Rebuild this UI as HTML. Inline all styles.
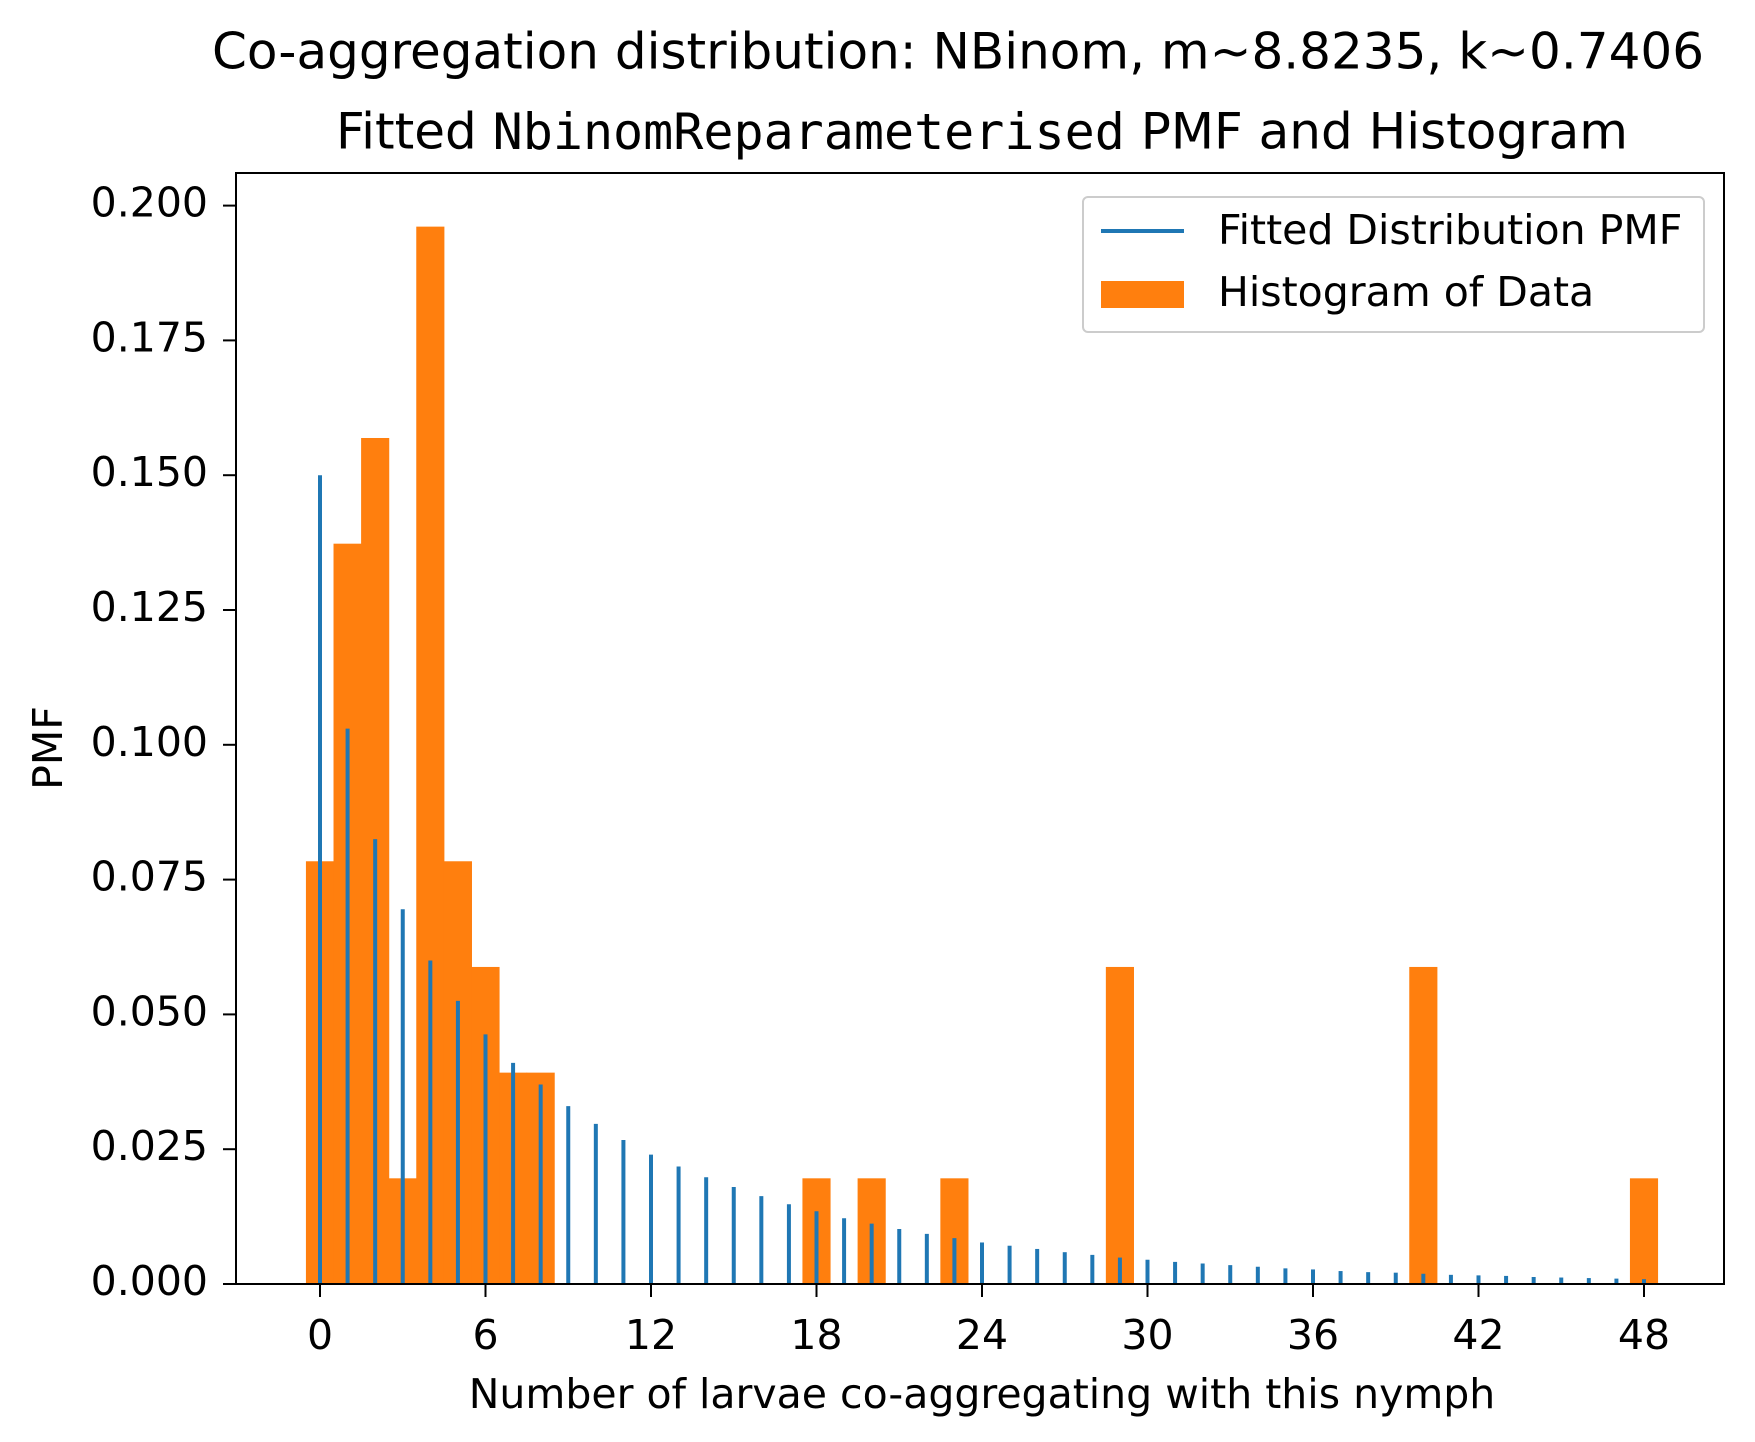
<!DOCTYPE html>
<html><head><meta charset="utf-8"><style>html,body{margin:0;padding:0;background:#fff}svg{display:block}text{font-family:"DejaVu Sans","Liberation Sans",sans-serif;fill:#000}</style></head>
<body>
<svg id="chart" width="1755" height="1442" viewBox="0 0 1755 1442" xmlns="http://www.w3.org/2000/svg">
<rect width="1755" height="1442" fill="#fff"/>
<text x="958" y="55" font-size="50" text-anchor="middle" dominant-baseline="middle">Co-aggregation distribution: NBinom, m~8.8235, k~0.7406</text>
<text x="982" y="135" font-size="50" text-anchor="middle" dominant-baseline="middle">Fitted <tspan font-family="DejaVu Sans Mono,Liberation Mono,monospace">NbinomReparameterised</tspan> PMF and Histogram</text>
<g id="marks"></g>
<rect x="236" y="173" width="1488" height="1111" fill="none" stroke="#000" stroke-width="2"/>
<g id="axes"></g>
<text x="982" y="1397" font-size="41" text-anchor="middle" dominant-baseline="middle">Number of larvae co-aggregating with this nymph</text>
<text transform="translate(51,748) rotate(-90)" font-size="41" text-anchor="middle" dominant-baseline="middle">PMF</text>
<g>
<rect x="1083" y="197" width="621" height="135" rx="5" fill="#fff" fill-opacity="0.8" stroke="#ccc" stroke-width="2"/>
<line x1="1101" y1="231" x2="1184" y2="231" stroke="#1f77b4" stroke-width="4"/>
<text x="1218" y="233" font-size="41" dominant-baseline="middle">Fitted Distribution PMF</text>
<rect x="1101" y="281" width="83" height="27" fill="#ff7f0e"/>
<text x="1218" y="295" font-size="41" dominant-baseline="middle">Histogram of Data</text>
</g>
</svg>
<script>
const histBins=[0,1,2,3,4,5,6,7,8,18,20,23,29,40,48];
const histValues=[0.0784,0.1373,0.1569,0.0196,0.1961,0.0784,0.0588,0.0392,0.0392,0.0196,0.0196,0.0196,0.0588,0.0588,0.0196];
const pmfValues=[0.150,0.103,0.0825,0.0695,0.060,0.0525,0.0463,0.041,0.037,0.033,0.0297,0.0267,0.024,0.0218,0.0198,0.018,0.0163,0.0148,0.0135,0.0122,0.0112,0.0102,0.0093,0.0085,0.0077,0.0071,0.0065,0.0059,0.0054,0.0049,0.0045,0.0041,0.0038,0.0035,0.0032,0.0029,0.0027,0.0024,0.0022,0.0021,0.0019,0.0017,0.0016,0.0015,0.0013,0.0012,0.0011,0.0010,0.0009];
const xTicks=[0,6,12,18,24,30,36,42,48];
const yTicks=[0,0.025,0.05,0.075,0.1,0.125,0.15,0.175,0.2];
const yTickLabels=["0.000","0.025","0.050","0.075","0.100","0.125","0.150","0.175","0.200"];
const NS="http://www.w3.org/2000/svg";
const X=v=>320+(v)*(1644-320)/48;
const Y=v=>1284-v*5392;
const marks=document.getElementById('marks'),axes=document.getElementById('axes');
function mk(t,a,p){const e=document.createElementNS(NS,t);for(const k in a)e.setAttribute(k,a[k]);p.appendChild(e);return e;}
const bw=X(1.02)-X(0);
histBins.forEach((b,i)=>{const r=mk('rect',{x:X(b)-bw/2,y:Y(histValues[i]),width:bw,height:Y(0)-Y(histValues[i]),fill:'#ff7f0e'},marks);

});
pmfValues.forEach((v,i)=>{const l=mk('line',{x1:X(i),x2:X(i),y1:Y(0),y2:Y(v),stroke:'#1f77b4','stroke-width':4},marks);

});
xTicks.forEach(t=>{const l=mk('line',{x1:X(t),x2:X(t),y1:1284,y2:1297,stroke:'#000','stroke-width':2},axes);


const s=mk('text',{x:X(t),y:1338,'font-size':41,'text-anchor':'middle','dominant-baseline':'middle'},axes);s.textContent=t;

});
yTicks.forEach((t,i)=>{const l=mk('line',{x1:223,x2:236,y1:Y(t),y2:Y(t),stroke:'#000','stroke-width':2},axes);


const s=mk('text',{x:208,y:Y(t),'font-size':41,'text-anchor':'end','dominant-baseline':'middle'},axes);s.textContent=yTickLabels[i];

});
</script>
</body></html>
